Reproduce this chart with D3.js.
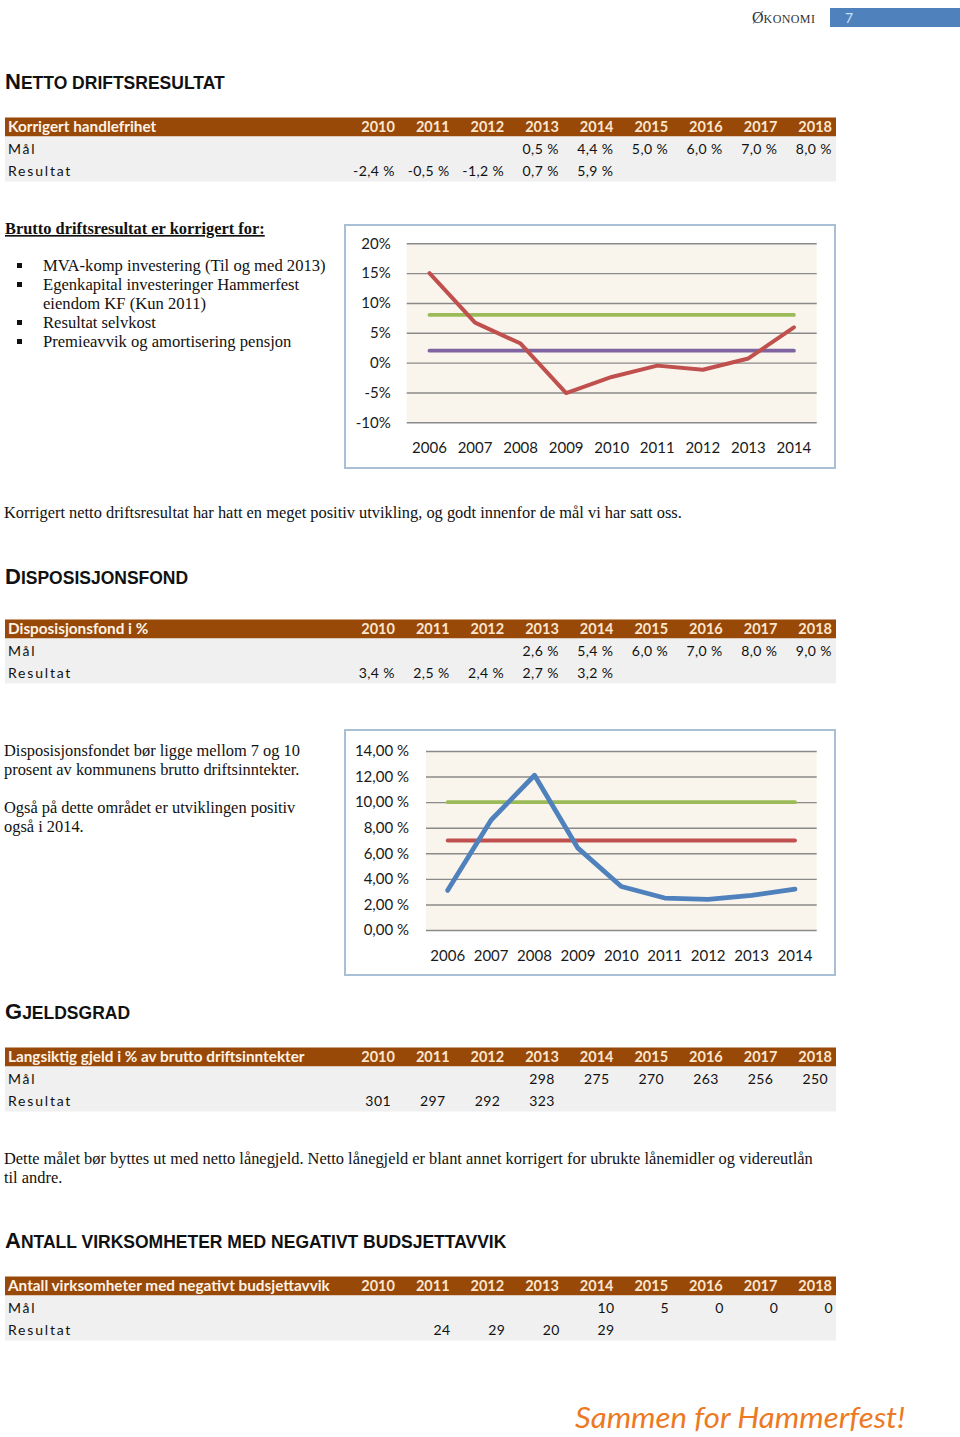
<!DOCTYPE html>
<html><head><meta charset="utf-8">
<script src="https://cdn.jsdelivr.net/npm/d3@7"></script>
<style>
html,body{margin:0;padding:0;background:#fff;}
svg{display:block;}
</style></head>
<body>
<script>
// ---------- DATA ----------
const tableYears = [2010, 2011, 2012, 2013, 2014, 2015, 2016, 2017, 2018];

const t1Title = "Korrigert handlefrihet";
const t1Maal = [null, null, null, 0.5, 4.4, 5.0, 6.0, 7.0, 8.0];
const t1Resultat = [-2.4, -0.5, -1.2, 0.7, 5.9, null, null, null, null];

const t2Title = "Disposisjonsfond i %";
const t2Maal = [null, null, null, 2.6, 5.4, 6.0, 7.0, 8.0, 9.0];
const t2Resultat = [3.4, 2.5, 2.4, 2.7, 3.2, null, null, null, null];

const t3Title = "Langsiktig gjeld i % av brutto driftsinntekter";
const t3Maal = [null, null, null, 298, 275, 270, 263, 256, 250];
const t3Resultat = [301, 297, 292, 323, null, null, null, null, null];

const t4Title = "Antall virksomheter med negativt budsjettavvik";
const t4Maal = [null, null, null, null, 10, 5, 0, 0, 0];
const t4Resultat = [null, 24, 29, 20, 29, null, null, null, null];

const chartYears = [2006, 2007, 2008, 2009, 2010, 2011, 2012, 2013, 2014];
const driftResultat = [15.0, 6.7, 3.2, -5.1, -2.4, -0.5, -1.2, 0.7, 5.9];
const driftMaalHoy = [8, 8, 8, 8, 8, 8, 8, 8, 8];
const driftMaalLav = [2, 2, 2, 2, 2, 2, 2, 2, 2];
const driftTicks = [-10, -5, 0, 5, 10, 15, 20];

const fondResultat = [3.1, 8.6, 12.1, 6.4, 3.4, 2.5, 2.4, 2.7, 3.2];
const fondMaalHoy = [10, 10, 10, 10, 10, 10, 10, 10, 10];
const fondMaalLav = [7, 7, 7, 7, 7, 7, 7, 7, 7];
const fondTicks = [0, 2, 4, 6, 8, 10, 12, 14];

// ---------- SETUP ----------
const W = 960, H = 1437;
const svg = d3.select("body").append("svg").attr("width", W).attr("height", H);
svg.append("rect").attr("width", W).attr("height", H).attr("fill", "#fff");

const sans = "Lato, 'Open Sans', sans-serif";
const serif = "'Liberation Serif', 'Times New Roman', serif";
const arial = "'Liberation Sans', Arial, sans-serif";

// ---------- PAGE HEADER ----------
const hdr = svg.append("text").attr("x", 752).attr("y", 23).attr("font-family", serif).attr("fill", "#333");
hdr.append("tspan").attr("font-size", 16).text("Ø");
hdr.append("tspan").attr("font-size", 12).attr("letter-spacing", 0.4).text("KONOMI");
svg.append("rect").attr("x", 830).attr("y", 8).attr("width", 130).attr("height", 19).attr("fill", "#4f81bd");
svg.append("text").attr("x", 845).attr("y", 23).attr("font-family", sans).attr("font-size", 14).attr("fill", "#c6e0f7").text("7");

// ---------- HEADINGS ----------
function heading(y, first, rest) {
  const t = svg.append("text").attr("x", 5).attr("y", y).attr("font-family", arial).attr("font-weight", "bold").attr("fill", "#111");
  t.append("tspan").attr("font-size", 22).text(first);
  t.append("tspan").attr("font-size", 17.5).text(rest);
}
heading(89, "N", "ETTO DRIFTSRESULTAT");
heading(584, "D", "ISPOSISJONSFOND");
heading(1019, "G", "JELDSGRAD");
heading(1248, "A", "NTALL VIRKSOMHETER MED NEGATIVT BUDSJETTAVVIK");

// ---------- TABLES ----------
const colX = d3.scaleBand().domain(tableYears).range([340.3, 832]);
const pctFmt = v => d3.format(".1f")(v).replace(".", ",").replace("\u2212", "-") + " %";
const intFmt = v => String(v);

function table(top, title, maal, res, fmt, shift) {
  const g = svg.append("g");
  g.append("rect").attr("x", 5).attr("y", top).attr("width", 831).attr("height", 19).attr("fill", "#984807");
  g.append("rect").attr("x", 5).attr("y", top + 19).attr("width", 831).attr("height", 45).attr("fill", "#f0f0f0");
  g.append("text").attr("x", 8).attr("y", top + 14.5).attr("font-family", sans).attr("font-weight", "bold")
    .attr("font-size", 15.3).attr("fill", "#fdf3e6").text(title);
  g.selectAll("text.yr").data(tableYears).enter().append("text").attr("class", "yr")
    .attr("x", d => colX(d) + colX.bandwidth()).attr("y", top + 14.5).attr("text-anchor", "end")
    .attr("font-family", sans).attr("font-weight", "bold").attr("font-size", 14.5).attr("fill", "#fbe6cf").text(d => d);
  const rows = [["Mål", maal, top + 36.5], ["Resultat", res, top + 58.5]];
  rows.forEach(([lab, vals, y]) => {
    g.append("text").attr("x", 8).attr("y", y).attr("font-family", sans).attr("font-size", 14)
      .attr("letter-spacing", 1.8).attr("fill", "#111").text(lab);
    g.selectAll(null).data(vals.map((v, i) => ({ v, yr: tableYears[i] })).filter(d => d.v !== null)).enter()
      .append("text").attr("x", d => colX(d.yr) + colX.bandwidth() + shift).attr("y", y).attr("text-anchor", "end")
      .attr("font-family", sans).attr("font-size", 14).attr("letter-spacing", 0.4).attr("fill", "#111")
      .text(d => fmt(d.v));
  });
}
table(117.5, t1Title, t1Maal, t1Resultat, pctFmt, 0);
table(619.5, t2Title, t2Maal, t2Resultat, pctFmt, 0);
table(1047.5, t3Title, t3Maal, t3Resultat, intFmt, -4);
table(1276.5, t4Title, t4Maal, t4Resultat, intFmt, 1);

// ---------- BODY TEXT ----------
function para(x, y, txt, opts = {}) {
  const t = svg.append("text").attr("x", x).attr("y", y).attr("font-family", serif).attr("font-size", opts.size || 16.4)
    .attr("fill", "#111").text(txt);
  if (opts.bold) t.attr("font-weight", "bold");
  if (opts.underline) t.attr("text-decoration", "underline");
  return t;
}
para(5, 234, "Brutto driftsresultat er korrigert for:", { bold: true, underline: true });
const bullets = [
  ["MVA-komp investering (Til og med 2013)", true],
  ["Egenkapital investeringer Hammerfest", true],
  ["eiendom KF (Kun 2011)", false],
  ["Resultat selvkost", true],
  ["Premieavvik og amortisering pensjon", true]
];
bullets.forEach(([txt, b], i) => {
  const y = 271 + i * 19;
  if (b) svg.append("rect").attr("x", 17).attr("y", y - 8).attr("width", 5).attr("height", 5).attr("fill", "#111");
  para(43, y, txt, { size: 16.6 });
});
para(4, 518, "Korrigert netto driftsresultat har hatt en meget positiv utvikling, og godt innenfor de mål vi har satt oss.");
para(4, 756, "Disposisjonsfondet bør ligge mellom 7 og 10");
para(4, 775, "prosent av kommunens brutto driftsinntekter.");
para(4, 813, "Også på dette området er utviklingen positiv");
para(4, 832, "også i 2014.");
para(4, 1164, "Dette målet bør byttes ut med netto lånegjeld. Netto lånegjeld er blant annet korrigert for ubrukte lånemidler og videreutlån");
para(4, 1183, "til andre.");

// ---------- CHARTS ----------
function lineChart(cfg) {
  const g = svg.append("g");
  g.append("rect").attr("x", cfg.box[0]).attr("y", cfg.box[1]).attr("width", cfg.box[2]).attr("height", cfg.box[3])
    .attr("fill", "#fff").attr("stroke", "#a9bfd5").attr("stroke-width", 2);
  const x = d3.scaleBand().domain(chartYears).range([cfg.left, cfg.right]);
  const y = d3.scaleLinear().domain(cfg.domain).range([cfg.bottom, cfg.top]);
  g.append("rect").attr("x", cfg.left).attr("y", cfg.top).attr("width", cfg.right - cfg.left)
    .attr("height", cfg.bottom - cfg.top).attr("fill", "#f9f5ec");
  const ya = g.append("g").attr("transform", `translate(${cfg.left},0)`)
    .call(d3.axisLeft(y).tickValues(cfg.ticks).tickFormat(cfg.fmt).tickSize(-(cfg.right - cfg.left)).tickPadding(cfg.ypad));
  ya.select(".domain").remove();
  ya.selectAll("line").attr("stroke", "#8a8a8a").attr("stroke-width", 1.4);
  ya.selectAll("text").attr("font-family", sans).attr("font-size", 15).attr("fill", "#1a1a1a");
  const xa = g.append("g").attr("transform", `translate(0,${cfg.bottom})`)
    .call(d3.axisBottom(x).tickSize(0).tickPadding(cfg.xpad));
  xa.select(".domain").remove();
  xa.selectAll("text").attr("font-family", sans).attr("font-size", 15).attr("fill", "#1a1a1a");
  const line = d3.line().x((d, i) => x(chartYears[i]) + x.bandwidth() / 2).y(d => y(d));
  cfg.series.forEach(s => {
    g.append("path").datum(s.values).attr("d", line).attr("fill", "none").attr("stroke", s.color)
      .attr("stroke-width", s.width).attr("stroke-linejoin", "round").attr("stroke-linecap", "round");
  });
}

lineChart({
  box: [345, 225, 490, 243],
  left: 406.7, right: 816.7, top: 243.3, bottom: 422.3,
  domain: [-10, 20], ticks: driftTicks, fmt: d => String(d).replace("\u2212", "-") + "%", ypad: 16, xpad: 20.5,
  series: [
    { values: driftMaalHoy, color: "#9bbb59", width: 3.8 },
    { values: driftMaalLav, color: "#8064a2", width: 3.8 },
    { values: driftResultat, color: "#c0504d", width: 4 }
  ]
});

lineChart({
  box: [345, 730, 490, 245],
  left: 426, right: 816.7, top: 751, bottom: 930,
  domain: [0, 14], ticks: fondTicks, fmt: d => d3.format(".2f")(d).replace(".", ",") + " %", ypad: 17, xpad: 20,
  series: [
    { values: fondMaalHoy, color: "#9bbb59", width: 3.8 },
    { values: fondMaalLav, color: "#c0504d", width: 3.8 },
    { values: fondResultat, color: "#4f81bd", width: 4.8 }
  ]
});

// ---------- LOGO ----------
svg.append("text").attr("x", 575).attr("y", 1428).attr("font-family", "'Comic Sans MS', cursive, " + sans)
  .attr("font-style", "italic").attr("font-size", 28).attr("fill", "#ec7a24")
  .attr("textLength", 330).attr("lengthAdjust", "spacingAndGlyphs").text("Sammen for Hammerfest!");
</script>
</body></html>
